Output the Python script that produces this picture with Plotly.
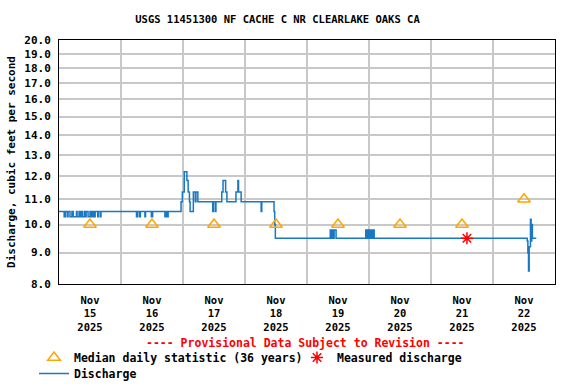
import plotly.graph_objects as go

# 15-minute discharge, stored as the points where the value changes (step line)
dis_time = [
    "2025-11-15 00:00", "2025-11-15 02:00", "2025-11-15 02:30", "2025-11-15 03:15",
    "2025-11-15 03:30", "2025-11-15 04:15", "2025-11-15 05:00", "2025-11-15 05:30",
    "2025-11-15 06:45", "2025-11-15 07:00", "2025-11-15 07:45", "2025-11-15 08:15",
    "2025-11-15 08:30", "2025-11-15 09:00", "2025-11-15 09:45", "2025-11-15 10:00",
    "2025-11-15 10:30", "2025-11-15 11:15", "2025-11-15 12:00", "2025-11-15 12:30",
    "2025-11-15 13:00", "2025-11-15 13:30", "2025-11-15 14:00", "2025-11-15 15:00",
    "2025-11-15 15:15", "2025-11-15 16:00", "2025-11-15 16:15",
    "2025-11-16 06:00", "2025-11-16 06:30", "2025-11-16 07:15", "2025-11-16 07:30",
    "2025-11-16 09:15", "2025-11-16 09:30", "2025-11-16 11:45", "2025-11-16 12:15",
    "2025-11-16 17:00", "2025-11-16 17:30", "2025-11-16 17:45", "2025-11-16 18:15",
    "2025-11-16 23:15", "2025-11-16 23:45",
    "2025-11-17 00:30", "2025-11-17 01:30", "2025-11-17 02:00", "2025-11-17 02:30",
    "2025-11-17 02:45", "2025-11-17 04:00", "2025-11-17 04:45", "2025-11-17 05:00",
    "2025-11-17 05:45", "2025-11-17 11:30", "2025-11-17 11:45", "2025-11-17 12:30",
    "2025-11-17 12:45", "2025-11-17 15:00", "2025-11-17 15:30", "2025-11-17 16:30",
    "2025-11-17 17:00", "2025-11-17 20:30", "2025-11-17 21:15", "2025-11-17 21:30",
    "2025-11-17 22:30",
    "2025-11-18 06:15", "2025-11-18 06:30", "2025-11-18 11:15", "2025-11-18 11:30",
    "2025-11-18 11:45",
    "2025-11-19 09:00", "2025-11-19 09:15", "2025-11-19 09:45", "2025-11-19 10:15",
    "2025-11-19 10:30", "2025-11-19 11:15", "2025-11-19 22:45", "2025-11-19 23:00",
    "2025-11-19 23:15", "2025-11-19 23:45",
    "2025-11-20 00:15", "2025-11-20 00:30", "2025-11-20 00:45", "2025-11-20 01:15",
    "2025-11-20 01:30", "2025-11-20 02:00",
    "2025-11-22 13:15", "2025-11-22 13:30", "2025-11-22 13:45", "2025-11-22 14:00",
    "2025-11-22 14:30", "2025-11-22 14:45", "2025-11-22 15:00", "2025-11-22 15:15",
    "2025-11-22 16:45",
]
dis_value = [
    10.5, 10.3, 10.5, 10.3,
    10.5, 10.3, 10.5, 10.3,
    10.5, 10.3, 10.5, 10.3,
    10.5, 10.3, 10.5, 10.3,
    10.5, 10.3, 10.5, 10.3,
    10.5, 10.3, 10.5, 10.3,
    10.5, 10.3, 10.5,
    10.3, 10.5, 10.3, 10.5,
    10.3, 10.5, 10.3, 10.5,
    10.3, 10.5, 10.3, 10.5,
    10.9, 11.3,
    12.2, 11.8, 11.3, 10.9,
    10.5, 11.3, 10.9, 11.3,
    10.9, 10.5, 10.9, 10.5,
    10.9, 11.3, 11.8, 11.3,
    10.9, 11.3, 11.8, 11.3,
    10.9,
    10.5, 10.9, 10.5, 10.0,
    9.5,
    9.8, 9.5, 9.8, 9.5,
    9.8, 9.5, 9.8, 9.5,
    9.8, 9.5,
    9.8, 9.5, 9.8, 9.5,
    9.8, 9.5,
    9.4, 9.0, 8.4, 9.2,
    10.2, 9.4, 10.0, 9.5,
    9.5,
]

median_time = ["2025-11-15 12:00", "2025-11-16 12:00", "2025-11-17 12:00", "2025-11-18 12:00",
               "2025-11-19 12:00", "2025-11-20 12:00", "2025-11-21 12:00", "2025-11-22 12:00"]
median_value = [10.0, 10.0, 10.0, 10.0, 10.0, 10.0, 10.0, 11.0]

meas_time = ["2025-11-21 13:55"]
meas_value = [9.5]

y_ticks = [8, 9, 10, 11, 12, 13, 14, 15, 16, 17, 18, 19, 20]
y_labels = ["8.0", "9.0", "10.0", "11.0", "12.0", "13.0", "14.0",
            "15.0", "16.0", "17.0", "18.0", "19.0", "20.0"]

mono = "DejaVu Sans Mono"


def legend_box(x_px, top_px):
    return dict(orientation="h", x=x_px / 576, xref="container", xanchor="left",
                y=1 - top_px / 384, yref="container", yanchor="top",
                font=dict(size=11.5, weight="bold"), bgcolor="rgba(0,0,0,0)",
                itemwidth=30)


fig = go.Figure()
fig.add_trace(go.Scatter(x=dis_time, y=dis_value, mode="lines", name="Discharge",
                         line=dict(color="#1a78c2", width=1.5, shape="hv"),
                         legend="legend3"))
fig.add_trace(go.Scatter(x=median_time, y=median_value, mode="markers",
                         name="Median daily statistic (36 years)",
                         marker=dict(symbol="triangle-up-open", size=11,
                                     color="#ffa500", line=dict(width=1.5)),
                         legend="legend"))
fig.add_trace(go.Scatter(x=meas_time, y=meas_value, mode="markers",
                         name="Measured discharge",
                         marker=dict(symbol="asterisk-open", size=10,
                                     color="red", line=dict(width=1.5, color="red")),
                         legend="legend2"))

fig.update_layout(
    width=576, height=384, autosize=False, showlegend=True,
    margin=dict(l=59, r=21, t=40, b=100),
    plot_bgcolor="white", paper_bgcolor="white",
    font=dict(family=mono, size=11, color="black", weight="bold"),
    title=dict(text="USGS 11451300 NF CACHE C NR CLEARLAKE OAKS CA",
               font=dict(family=mono, size=10.5, weight="bold"),
               x=277.5 / 576, xanchor="center", xref="container",
               y=1 - 19 / 384, yanchor="middle", yref="container"),
    xaxis=dict(type="date", range=["2025-11-15", "2025-11-23"],
               tick0="2025-11-15", dtick=86400000, ticklabelmode="period",
               tickformat="%b<br>%d<br>%Y", showgrid=True, gridcolor="#c8c8c8",
               gridwidth=1.5, showline=True, linecolor="black", linewidth=1,
               mirror=True, ticks="outside", ticklen=6, tickcolor="rgba(0,0,0,0)",
               tickfont=dict(size=10.5, weight="bold"), automargin=False),
    yaxis=dict(type="log", range=[0.90309, 1.30103], tickvals=y_ticks,
               ticktext=y_labels, showgrid=True, gridcolor="#c8c8c8", gridwidth=1.5,
               showline=True, linecolor="black", linewidth=1, mirror=True,
               ticks="outside", ticklen=5, tickcolor="rgba(0,0,0,0)",
               tickfont=dict(size=11, weight="bold"), automargin=False,
               title=dict(text="Discharge, cubic feet per second", standoff=6,
                          font=dict(size=11, weight="bold"))),
    legend=legend_box(34, 343),
    legend2=legend_box(297, 343),
    legend3=legend_box(34, 359),
    annotations=[dict(text="---- Provisional Data Subject to Revision ----",
                      x=(305.5 - 59) / 496, y=(284 - 343) / 244, xref="paper",
                      yref="paper", xanchor="center", yanchor="middle",
                      showarrow=False,
                      font=dict(family=mono, size=11.5, color="red", weight="bold"))],
)

# the page body has a default 8px margin; remove it so the chart sits at 0,0
fig.write_html("out.html", config={"displayModeBar": False},
               post_script="document.body.style.margin='0';")
